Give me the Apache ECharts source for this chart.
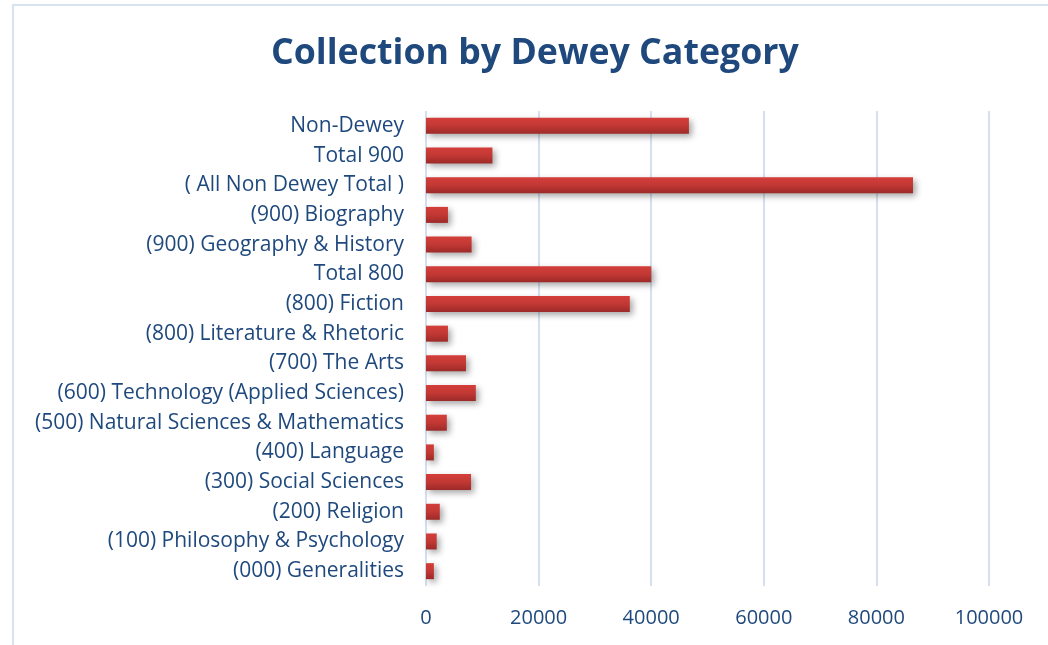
<!DOCTYPE html>
<html>
<head>
<meta charset="utf-8">
<script src="https://cdn.jsdelivr.net/npm/echarts@6/dist/echarts.min.js"></script>
<style>
html,body{margin:0;padding:0;background:#fff;}
#c{width:1048px;height:645px;}
</style>
</head>
<body>
<div id="c"></div>
<script>
const categories = [
  "Non-Dewey",
  "Total 900",
  "( All Non Dewey Total )",
  "(900) Biography",
  "(900) Geography & History",
  "Total 800",
  "(800) Fiction",
  "(800) Literature & Rhetoric",
  "(700) The Arts",
  "(600) Technology (Applied Sciences)",
  "(500) Natural Sciences & Mathematics",
  "(400) Language",
  "(300) Social Sciences",
  "(200) Religion",
  "(100) Philosophy & Psychology",
  "(000) Generalities"
];
const values = [46700, 11800, 86500, 3900, 8100, 40000, 36200, 3900, 7100, 8850, 3700, 1400, 8000, 2450, 1900, 1400];
const xTicks = [0, 20000, 40000, 60000, 80000, 100000];

const chart = echarts.init(document.getElementById('c'), null, {renderer: 'canvas'});
const font = '"Open Sans", "Noto Sans", sans-serif';
chart.setOption({
  animation: false,
  backgroundColor: '#ffffff',
  title: {
    text: 'Collection by Dewey Category',
    left: 266,
    top: 31,
    textStyle: {fontFamily: font, fontSize: 35.7, fontWeight: 'bold', color: '#1f497d'}
  },
  graphic: [{
    type: 'rect',
    shape: {x: 13, y: 5, width: 1100, height: 700},
    style: {fill: 'none', stroke: '#d6e2f0', lineWidth: 2},
    silent: true
  }],
  grid: {left: 426, right: 59, top: 111, bottom: 59, containLabel: false},
  xAxis: {
    type: 'value',
    min: xTicks[0],
    max: xTicks[xTicks.length - 1],
    interval: 20000,
    axisLine: {show: false},
    axisTick: {show: false},
    axisLabel: {fontFamily: font, fontSize: 20, color: '#1f497d', margin: 22,
      formatter: function (v) { return String(v); }},
    splitLine: {show: true, lineStyle: {color: '#d4e0f0', width: 2}}
  },
  yAxis: {
    type: 'category',
    inverse: true,
    data: categories,
    axisLine: {show: false},
    axisTick: {show: false},
    axisLabel: {fontFamily: font, fontSize: 21, color: '#1f497d', margin: 22}
  },
  series: [{
    type: 'bar',
    data: values,
    barWidth: 16,
    itemStyle: {
      color: new echarts.graphic.LinearGradient(0, 0, 0, 1, [
        {offset: 0, color: '#d43e3a'},
        {offset: 0.5, color: '#c23834'},
        {offset: 1, color: '#9c2a28'}
      ]),
      shadowColor: 'rgba(0,0,0,0.35)',
      shadowBlur: 6,
      shadowOffsetX: 3,
      shadowOffsetY: 3
    }
  }]
});
</script>
</body>
</html>
